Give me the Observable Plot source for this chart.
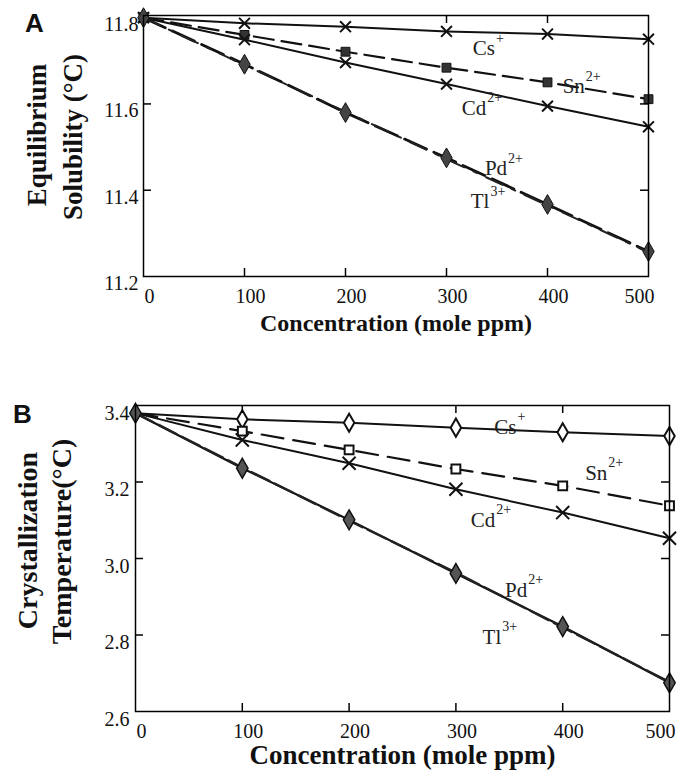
<!DOCTYPE html>
<html>
<head>
<meta charset="utf-8">
<script src="https://cdn.jsdelivr.net/npm/d3@7"></script>
<script src="https://cdn.jsdelivr.net/npm/@observablehq/plot@0.6"></script>
<style>
  html, body { margin: 0; padding: 0; background: white; }
  #chart svg { display: block; }
</style>
</head>
<body>
<div id="chart"></div>
<script>
// ---------- data ----------
const conc = [0, 100, 200, 300, 400, 500];
const xTicks = [0, 100, 200, 300, 400, 500];

// Panel A: equilibrium solubility (°C)
const csA = [11.800, 11.787, 11.779, 11.768, 11.762, 11.750];
const snA = [11.800, 11.760, 11.721, 11.684, 11.650, 11.611];
const cdA = [11.800, 11.749, 11.696, 11.646, 11.595, 11.547];
const pdA = [11.800, 11.692, 11.580, 11.475, 11.367, 11.258];
const tlA = [11.800, 11.690, 11.582, 11.472, 11.365, 11.256];
const yTicksA = [11.2, 11.4, 11.6, 11.8];

// Panel B: crystallization temperature (°C)
const csB = [3.380, 3.364, 3.355, 3.342, 3.330, 3.320];
const snB = [3.380, 3.333, 3.284, 3.234, 3.190, 3.138];
const cdB = [3.380, 3.310, 3.249, 3.181, 3.120, 3.053];
const pdB = [3.380, 3.236, 3.101, 2.961, 2.822, 2.675];
const tlB = [3.380, 3.238, 3.099, 2.963, 2.820, 2.677];
const yTicksB = [2.6, 2.8, 3.0, 3.2, 3.4];

// Ion labels
const labBase = ["Cs", "Sn", "Cd", "Pd", "Tl"];
const labSup = ["+", "2+", "2+", "2+", "3+"];
const labXA = [326, 415, 315, 338, 324];
const labYA = [11.728, 11.640, 11.591, 11.451, 11.374];
const labXB = [336, 421, 314, 346, 325];
const labYB = [3.344, 3.224, 3.101, 2.918, 2.795];

// ---------- helpers ----------
const SERIF = '"Liberation Serif", "Times New Roman", serif';
const SANS = '"Liberation Sans", Arial, sans-serif';
const ctx = document.createElement("canvas").getContext("2d");
function textW(s, size) { ctx.font = `${size}px "Liberation Serif"`; return ctx.measureText(s).width; }
function rows(series) {
  return series.flatMap(([s, v]) => v.map((y, i) => ({s, x: conc[i], y})));
}
function labelMarks(xs, ys, size, supSize) {
  const L = labBase.map((b, i) => ({base: b, sup: labSup[i], x: xs[i], y: ys[i]}));
  const marks = [Plot.text(L, {x: "x", y: "y", text: "base", textAnchor: "start", fontSize: size, fontFamily: SERIF, fill: "#222"})];
  L.forEach(d => marks.push(Plot.text([d], {x: "x", y: "y", text: "sup", textAnchor: "start", fontSize: supSize,
    fontFamily: SERIF, fill: "#222", dx: textW(d.base, size) + 1, dy: -10})));
  return marks;
}
function frameTicks(xT, yT, fw, fh, topX, rightY) {
  const tk = {stroke: "black", strokeOpacity: 1, strokeWidth: 1.5};
  return [
    Plot.gridX(xT, {...tk, insetTop: fh - 8}),
    Plot.gridX(topX, {...tk, insetBottom: fh - 8}),
    Plot.gridY(yT, {...tk, insetRight: fw - 8}),
    Plot.gridY(rightY, {...tk, insetLeft: fw - 8})
  ];
}
function xLabels() {
  const o = {tickSize: 0, tickPadding: 12, fontSize: 20, fontFamily: SERIF, label: null, fill: "#111"};
  return [
    Plot.axisX(xTicks.slice(0, 5), {...o, dx: 6}),
    Plot.axisX(xTicks.slice(5), {...o, dx: -9})
  ];
}
const fontStyle = {fontFamily: SERIF, background: "white", overflow: "visible", color: "black"};
const titleOpts = {fontWeight: "bold", fill: "#111", fontFamily: SERIF, textAnchor: "middle", lineAnchor: "middle"};

// ---------- Panel A ----------
const W = 679;
{
  const H = 345, mt = 15, mb = 69, ml = 143, mr = 31;
  const fw = W - ml - mr, fh = H - mt - mb;
  const data = rows([["Cs", csA], ["Sn", snA], ["Cd", cdA], ["Pd", pdA], ["Tl", tlA]]);
  const S = s => data.filter(d => d.s === s);
  const plotA = Plot.plot({
    width: W, height: H, marginTop: mt, marginBottom: mb, marginLeft: ml, marginRight: mr,
    style: fontStyle,
    x: {domain: [0, 500]},
    y: {domain: [11.2, 11.805]},
    marks: [
      Plot.line(S("Cs"), {x: "x", y: "y", stroke: "#111", strokeWidth: 2}),
      Plot.line(S("Sn"), {x: "x", y: "y", stroke: "#111", strokeWidth: 2.2, strokeDasharray: "20,8"}),
      Plot.line(S("Cd"), {x: "x", y: "y", stroke: "#111", strokeWidth: 2}),
      Plot.line(S("Pd"), {x: "x", y: "y", stroke: "#111", strokeWidth: 2.8, strokeDasharray: "24,8"}),
      Plot.line(S("Tl"), {x: "x", y: "y", stroke: "#222", strokeWidth: 2, strokeDasharray: "18,10,4,10"}),
      Plot.dot(S("Cs"), {x: "x", y: "y", symbol: "times", r: 5, stroke: "#111", strokeWidth: 2}),
      Plot.dot(S("Sn"), {x: "x", y: "y", symbol: "square", r: 5, fill: "#333", stroke: "#111", strokeWidth: 1}),
      Plot.dot(S("Cd"), {x: "x", y: "y", symbol: "times", r: 5, stroke: "#111", strokeWidth: 2}),
      Plot.dot(S("Pd"), {x: "x", y: "y", symbol: "diamond", r: 6, fill: "#444", stroke: "#111", strokeWidth: 1}),
      ...frameTicks(xTicks.slice(1, 5), yTicksA.slice(1, 3), fw, fh, [300, 400], [11.4, 11.6]),
      Plot.frame({stroke: "black", strokeWidth: 1.5}),
      ...xLabels(),
      Plot.axisY(yTicksA, {tickSize: 0, tickPadding: 5, dy: 7, fontSize: 20, fontFamily: SERIF, fill: "#111", label: null, tickFormat: d3.format(".1f")}),
      ...labelMarks(labXA, labYA, 21, 14),
      Plot.text(["Concentration (mole ppm)"], {...titleOpts, frameAnchor: "bottom", dy: 47, fontSize: 24}),
      Plot.text(["Equilibrium"], {...titleOpts, frameAnchor: "left", rotate: -90, dx: -106, dy: -11, fontSize: 27}),
      Plot.text(["Solubility (°C)"], {...titleOpts, frameAnchor: "left", rotate: -90, dx: -70, dy: -9, fontSize: 27}),
      Plot.text(["A"], {...titleOpts, frameAnchor: "top-left", dx: -109, dy: 8, fontSize: 26, fontFamily: SANS})
    ]
  });
  document.getElementById("chart").append(plotA);
}

// ---------- Panel B ----------
{
  const H = 428, mt = 60, mb = 62, ml = 135, mr = 10;
  const fw = W - ml - mr, fh = H - mt - mb;
  const data = rows([["Cs", csB], ["Sn", snB], ["Cd", cdB], ["Pd", pdB], ["Tl", tlB]]);
  const S = s => data.filter(d => d.s === s);
  const plotB = Plot.plot({
    width: W, height: H, marginTop: mt, marginBottom: mb, marginLeft: ml, marginRight: mr,
    style: fontStyle,
    x: {domain: [0, 500]},
    y: {domain: [2.6, 3.4]},
    marks: [
      Plot.line(S("Cs"), {x: "x", y: "y", stroke: "#111", strokeWidth: 2}),
      Plot.line(S("Sn"), {x: "x", y: "y", stroke: "#111", strokeWidth: 2.2, strokeDasharray: "22,10"}),
      Plot.line(S("Cd"), {x: "x", y: "y", stroke: "#111", strokeWidth: 2}),
      Plot.line(S("Pd"), {x: "x", y: "y", stroke: "#111", strokeWidth: 2.2}),
      Plot.line(S("Tl"), {x: "x", y: "y", stroke: "#222", strokeWidth: 2.4, strokeDasharray: "20,6"}),
      Plot.dot(S("Cs").slice(1), {x: "x", y: "y", symbol: "diamond", r: 5.5, fill: "white", stroke: "#111", strokeWidth: 2}),
      Plot.dot(S("Sn").slice(1), {x: "x", y: "y", symbol: "square", r: 5, fill: "white", stroke: "#111", strokeWidth: 2}),
      Plot.dot(S("Cd").slice(1), {x: "x", y: "y", symbol: "times", r: 6, stroke: "#111", strokeWidth: 2}),
      Plot.dot(S("Pd"), {x: "x", y: "y", symbol: "diamond", r: 6, fill: "#555", stroke: "#111", strokeWidth: 1.5}),
      ...frameTicks(xTicks.slice(1, 5), yTicksB.slice(1, 4), fw, fh, [100, 300, 400], [2.8, 3.0, 3.2]),
      Plot.frame({stroke: "black", strokeWidth: 1.5}),
      ...xLabels(),
      Plot.axisY(yTicksB, {tickSize: 0, tickPadding: 6, dy: 8, fontSize: 20, fontFamily: SERIF, fill: "#111", label: null, tickFormat: d3.format(".1f")}),
      ...labelMarks(labXB, labYB, 21, 14),
      Plot.text(["Concentration (mole ppm)"], {...titleOpts, frameAnchor: "bottom", dy: 44, fontSize: 27}),
      Plot.text(["Crystallization"], {...titleOpts, frameAnchor: "left", rotate: -90, dx: -107, dy: -18, fontSize: 28}),
      Plot.text(["Temperature(°C)"], {...titleOpts, frameAnchor: "left", rotate: -90, dx: -73, dy: -17, fontSize: 28}),
      Plot.text(["B"], {...titleOpts, frameAnchor: "top-left", dx: -113, dy: 9, fontSize: 26, fontFamily: SANS})
    ]
  });
  document.getElementById("chart").append(plotB);
}
// force the serif face on every text (tick labels included), keep the panel letters sans
d3.selectAll("#chart svg text").style("font-family", SERIF);
d3.selectAll("#chart svg text").filter(function() { return this.textContent === "A" || this.textContent === "B"; })
  .style("font-family", SANS);
</script>
</body>
</html>
